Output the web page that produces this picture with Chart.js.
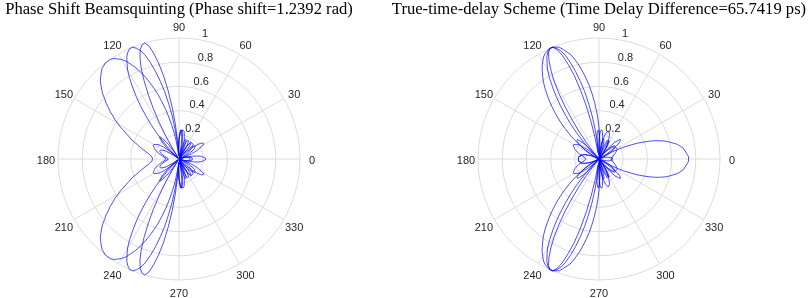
<!DOCTYPE html>
<html>
<head>
<meta charset="utf-8">
<script src="https://cdn.jsdelivr.net/npm/chart.js@4.4.1/dist/chart.umd.min.js"></script>
<style>
  body { margin: 0; background: #fff; }
  #wrap { position: relative; width: 809px; height: 298px; overflow: hidden; }
  canvas { position: absolute; top: 0; }
</style>
</head>
<body>
<div id="wrap">
  <canvas id="psChart" width="400" height="298" style="left:-21px"></canvas>
  <canvas id="ttdChart" width="440" height="298" style="left:379px"></canvas>
</div>
<script>
// angulo (graus), passo de 1.5
const angles = [
  0, 1.5, 3, 4.5, 6, 7.5, 9, 10.5, 12, 13.5, 15, 16.5, 18, 19.5, 21, 22.5, 24, 25.5, 27, 28.5,
  30, 31.5, 33, 34.5, 36, 37.5, 39, 40.5, 42, 43.5, 45, 46.5, 48, 49.5, 51, 52.5, 54, 55.5, 57, 58.5,
  60, 61.5, 63, 64.5, 66, 67.5, 69, 70.5, 72, 73.5, 75, 76.5, 78, 79.5, 81, 82.5, 84, 85.5, 87, 88.5,
  90, 91.5, 93, 94.5, 96, 97.5, 99, 100.5, 102, 103.5, 105, 106.5, 108, 109.5, 111, 112.5, 114, 115.5, 117, 118.5,
  120, 121.5, 123, 124.5, 126, 127.5, 129, 130.5, 132, 133.5, 135, 136.5, 138, 139.5, 141, 142.5, 144, 145.5, 147, 148.5,
  150, 151.5, 153, 154.5, 156, 157.5, 159, 160.5, 162, 163.5, 165, 166.5, 168, 169.5, 171, 172.5, 174, 175.5, 177, 178.5,
  180, 181.5, 183, 184.5, 186, 187.5, 189, 190.5, 192, 193.5, 195, 196.5, 198, 199.5, 201, 202.5, 204, 205.5, 207, 208.5,
  210, 211.5, 213, 214.5, 216, 217.5, 219, 220.5, 222, 223.5, 225, 226.5, 228, 229.5, 231, 232.5, 234, 235.5, 237, 238.5,
  240, 241.5, 243, 244.5, 246, 247.5, 249, 250.5, 252, 253.5, 255, 256.5, 258, 259.5, 261, 262.5, 264, 265.5, 267, 268.5,
  270, 271.5, 273, 274.5, 276, 277.5, 279, 280.5, 282, 283.5, 285, 286.5, 288, 289.5, 291, 292.5, 294, 295.5, 297, 298.5,
  300, 301.5, 303, 304.5, 306, 307.5, 309, 310.5, 312, 313.5, 315, 316.5, 318, 319.5, 321, 322.5, 324, 325.5, 327, 328.5,
  330, 331.5, 333, 334.5, 336, 337.5, 339, 340.5, 342, 343.5, 345, 346.5, 348, 349.5, 351, 352.5, 354, 355.5, 357, 358.5
];

const thetaTicks = [0, 30, 60, 90, 120, 150, 180, 210, 240, 270, 300, 330];
const rTicks = [0.2, 0.4, 0.6, 0.8, 1];
const rTickLabels = ['0.2', '0.4', '0.6', '0.8', '1'];

const titlePS = 'Phase Shift Beamsquinting (Phase shift=1.2392 rad)';
const titleTTD = 'True-time-delay Scheme (Time Delay Difference=65.7419 ps)';

// phase shift - frequencia baixa (lobulo largo em ~126)
const psLow = [
  0.09, 0.09, 0.09, 0.09, 0.09, 0.08, 0.08, 0.08, 0.07, 0.07, 0.06, 0.05, 0.04, 0.04, 0.03, 0.02, 0.01, 0.01, 0.02, 0.03,
  0.04, 0.06, 0.07, 0.08, 0.10, 0.11, 0.12, 0.13, 0.15, 0.15, 0.16, 0.17, 0.17, 0.17, 0.17, 0.17, 0.16, 0.15, 0.14, 0.12,
  0.10, 0.08, 0.05, 0.03, 0.00, 0.03, 0.06, 0.09, 0.12, 0.15, 0.17, 0.19, 0.21, 0.23, 0.24, 0.24, 0.24, 0.23, 0.21, 0.19,
  0.16, 0.12, 0.08, 0.03, 0.03, 0.09, 0.15, 0.22, 0.28, 0.35, 0.42, 0.49, 0.56, 0.62, 0.68, 0.74, 0.79, 0.84, 0.88, 0.92,
  0.95, 0.97, 0.99, 1.00, 1.00, 1.00, 0.99, 0.98, 0.96, 0.94, 0.92, 0.89, 0.86, 0.83, 0.79, 0.76, 0.72, 0.69, 0.65, 0.62,
  0.58, 0.55, 0.51, 0.48, 0.45, 0.43, 0.40, 0.37, 0.35, 0.33, 0.31, 0.29, 0.28, 0.26, 0.25, 0.24, 0.23, 0.23, 0.22, 0.22,
  0.22, 0.22, 0.22, 0.23, 0.23, 0.24, 0.25, 0.26, 0.28, 0.29, 0.31, 0.33, 0.35, 0.37, 0.40, 0.43, 0.45, 0.48, 0.51, 0.55,
  0.58, 0.62, 0.65, 0.69, 0.72, 0.76, 0.79, 0.83, 0.86, 0.89, 0.92, 0.94, 0.96, 0.98, 0.99, 1.00, 1.00, 1.00, 0.99, 0.97,
  0.95, 0.92, 0.88, 0.84, 0.79, 0.74, 0.68, 0.62, 0.56, 0.49, 0.42, 0.35, 0.28, 0.22, 0.15, 0.09, 0.03, 0.03, 0.08, 0.12,
  0.16, 0.19, 0.21, 0.23, 0.24, 0.24, 0.24, 0.23, 0.21, 0.19, 0.17, 0.15, 0.12, 0.09, 0.06, 0.03, 0.00, 0.03, 0.05, 0.08,
  0.10, 0.12, 0.14, 0.15, 0.16, 0.17, 0.17, 0.17, 0.17, 0.17, 0.16, 0.15, 0.15, 0.13, 0.12, 0.11, 0.10, 0.08, 0.07, 0.06,
  0.04, 0.03, 0.02, 0.01, 0.01, 0.02, 0.03, 0.04, 0.04, 0.05, 0.06, 0.07, 0.07, 0.08, 0.08, 0.08, 0.09, 0.09, 0.09, 0.09
];

// frequencia central (igual nos dois esquemas)
const center = [
  0.11, 0.11, 0.11, 0.11, 0.10, 0.10, 0.09, 0.08, 0.07, 0.06, 0.05, 0.04, 0.02, 0.01, 0.01, 0.03, 0.04, 0.06, 0.08, 0.10,
  0.11, 0.13, 0.14, 0.16, 0.16, 0.17, 0.17, 0.17, 0.16, 0.15, 0.14, 0.12, 0.09, 0.07, 0.04, 0.01, 0.03, 0.06, 0.09, 0.12,
  0.14, 0.16, 0.17, 0.17, 0.17, 0.15, 0.13, 0.10, 0.06, 0.02, 0.02, 0.07, 0.12, 0.16, 0.19, 0.22, 0.24, 0.24, 0.23, 0.20,
  0.16, 0.10, 0.03, 0.06, 0.15, 0.25, 0.36, 0.46, 0.57, 0.66, 0.75, 0.83, 0.90, 0.95, 0.98, 1.00, 1.00, 0.98, 0.95, 0.90,
  0.85, 0.78, 0.70, 0.62, 0.54, 0.45, 0.37, 0.29, 0.21, 0.14, 0.07, 0.01, 0.05, 0.09, 0.13, 0.16, 0.19, 0.21, 0.22, 0.23,
  0.24, 0.24, 0.24, 0.23, 0.22, 0.22, 0.21, 0.20, 0.19, 0.18, 0.17, 0.16, 0.15, 0.14, 0.13, 0.13, 0.12, 0.12, 0.11, 0.11,
  0.11, 0.11, 0.11, 0.12, 0.12, 0.13, 0.13, 0.14, 0.15, 0.16, 0.17, 0.18, 0.19, 0.20, 0.21, 0.22, 0.22, 0.23, 0.24, 0.24,
  0.24, 0.23, 0.22, 0.21, 0.19, 0.16, 0.13, 0.09, 0.05, 0.01, 0.07, 0.14, 0.21, 0.29, 0.37, 0.45, 0.54, 0.62, 0.70, 0.78,
  0.85, 0.90, 0.95, 0.98, 1.00, 1.00, 0.98, 0.95, 0.90, 0.83, 0.75, 0.66, 0.57, 0.46, 0.36, 0.25, 0.15, 0.06, 0.03, 0.10,
  0.16, 0.20, 0.23, 0.24, 0.24, 0.22, 0.19, 0.16, 0.12, 0.07, 0.02, 0.02, 0.06, 0.10, 0.13, 0.15, 0.17, 0.17, 0.17, 0.16,
  0.14, 0.12, 0.09, 0.06, 0.03, 0.01, 0.04, 0.07, 0.09, 0.12, 0.14, 0.15, 0.16, 0.17, 0.17, 0.17, 0.16, 0.16, 0.14, 0.13,
  0.11, 0.10, 0.08, 0.06, 0.04, 0.03, 0.01, 0.01, 0.02, 0.04, 0.05, 0.06, 0.07, 0.08, 0.09, 0.10, 0.10, 0.11, 0.11, 0.11
];

// phase shift - frequencia alta (lobulo estreito em ~107)
const psHigh = [
  0.22, 0.22, 0.21, 0.20, 0.19, 0.18, 0.16, 0.13, 0.11, 0.08, 0.05, 0.02, 0.01, 0.05, 0.08, 0.11, 0.14, 0.17, 0.19, 0.21,
  0.23, 0.24, 0.24, 0.23, 0.22, 0.20, 0.17, 0.14, 0.10, 0.05, 0.01, 0.04, 0.08, 0.11, 0.14, 0.16, 0.17, 0.17, 0.15, 0.13,
  0.09, 0.05, 0.00, 0.05, 0.09, 0.13, 0.16, 0.17, 0.17, 0.15, 0.12, 0.07, 0.01, 0.05, 0.12, 0.17, 0.21, 0.24, 0.24, 0.21,
  0.16, 0.08, 0.03, 0.15, 0.29, 0.43, 0.57, 0.70, 0.81, 0.90, 0.97, 1.00, 0.99, 0.96, 0.90, 0.82, 0.71, 0.59, 0.47, 0.34,
  0.22, 0.11, 0.01, 0.08, 0.15, 0.19, 0.22, 0.24, 0.24, 0.22, 0.20, 0.16, 0.13, 0.09, 0.05, 0.01, 0.03, 0.06, 0.09, 0.12,
  0.14, 0.15, 0.16, 0.17, 0.17, 0.17, 0.17, 0.16, 0.16, 0.15, 0.14, 0.13, 0.13, 0.12, 0.11, 0.11, 0.10, 0.10, 0.09, 0.09,
  0.09, 0.09, 0.09, 0.10, 0.10, 0.11, 0.11, 0.12, 0.13, 0.13, 0.14, 0.15, 0.16, 0.16, 0.17, 0.17, 0.17, 0.17, 0.16, 0.15,
  0.14, 0.12, 0.09, 0.06, 0.03, 0.01, 0.05, 0.09, 0.13, 0.16, 0.20, 0.22, 0.24, 0.24, 0.22, 0.19, 0.15, 0.08, 0.01, 0.11,
  0.22, 0.34, 0.47, 0.59, 0.71, 0.82, 0.90, 0.96, 0.99, 1.00, 0.97, 0.90, 0.81, 0.70, 0.57, 0.43, 0.29, 0.15, 0.03, 0.08,
  0.16, 0.21, 0.24, 0.24, 0.21, 0.17, 0.12, 0.05, 0.01, 0.07, 0.12, 0.15, 0.17, 0.17, 0.16, 0.13, 0.09, 0.05, 0.00, 0.05,
  0.09, 0.13, 0.15, 0.17, 0.17, 0.16, 0.14, 0.11, 0.08, 0.04, 0.01, 0.05, 0.10, 0.14, 0.17, 0.20, 0.22, 0.23, 0.24, 0.24,
  0.23, 0.21, 0.19, 0.17, 0.14, 0.11, 0.08, 0.05, 0.01, 0.02, 0.05, 0.08, 0.11, 0.13, 0.16, 0.18, 0.19, 0.20, 0.21, 0.22
];

// true-time-delay - frequencia baixa
const ttdLow = [
  0.10, 0.10, 0.10, 0.11, 0.11, 0.11, 0.11, 0.12, 0.12, 0.12, 0.13, 0.13, 0.14, 0.14, 0.15, 0.15, 0.16, 0.16, 0.17, 0.17,
  0.17, 0.17, 0.17, 0.17, 0.17, 0.16, 0.16, 0.15, 0.14, 0.12, 0.11, 0.09, 0.07, 0.05, 0.03, 0.00, 0.02, 0.05, 0.07, 0.10,
  0.13, 0.15, 0.17, 0.19, 0.21, 0.23, 0.23, 0.24, 0.24, 0.23, 0.22, 0.20, 0.17, 0.14, 0.10, 0.05, 0.00, 0.06, 0.12, 0.19,
  0.26, 0.33, 0.40, 0.47, 0.54, 0.61, 0.67, 0.73, 0.79, 0.84, 0.89, 0.92, 0.95, 0.98, 0.99, 1.00, 1.00, 0.99, 0.98, 0.96,
  0.93, 0.90, 0.86, 0.82, 0.78, 0.73, 0.68, 0.63, 0.58, 0.53, 0.48, 0.43, 0.38, 0.33, 0.29, 0.24, 0.20, 0.16, 0.13, 0.09,
  0.06, 0.03, 0.00, 0.02, 0.04, 0.06, 0.08, 0.09, 0.10, 0.12, 0.13, 0.14, 0.15, 0.15, 0.16, 0.16, 0.17, 0.17, 0.17, 0.17,
  0.17, 0.17, 0.17, 0.17, 0.17, 0.16, 0.16, 0.15, 0.15, 0.14, 0.13, 0.12, 0.10, 0.09, 0.08, 0.06, 0.04, 0.02, 0.00, 0.03,
  0.06, 0.09, 0.13, 0.16, 0.20, 0.24, 0.29, 0.33, 0.38, 0.43, 0.48, 0.53, 0.58, 0.63, 0.68, 0.73, 0.78, 0.82, 0.86, 0.90,
  0.93, 0.96, 0.98, 0.99, 1.00, 1.00, 0.99, 0.98, 0.95, 0.92, 0.89, 0.84, 0.79, 0.73, 0.67, 0.61, 0.54, 0.47, 0.40, 0.33,
  0.26, 0.19, 0.12, 0.06, 0.00, 0.05, 0.10, 0.14, 0.17, 0.20, 0.22, 0.23, 0.24, 0.24, 0.23, 0.23, 0.21, 0.19, 0.17, 0.15,
  0.13, 0.10, 0.07, 0.05, 0.02, 0.00, 0.03, 0.05, 0.07, 0.09, 0.11, 0.12, 0.14, 0.15, 0.16, 0.16, 0.17, 0.17, 0.17, 0.17,
  0.17, 0.17, 0.17, 0.16, 0.16, 0.15, 0.15, 0.14, 0.14, 0.13, 0.13, 0.12, 0.12, 0.12, 0.11, 0.11, 0.11, 0.11, 0.10, 0.10
];

// true-time-delay - frequencia alta (lobulo extra em 0)
const ttdHigh = [
  0.74, 0.74, 0.73, 0.72, 0.71, 0.70, 0.68, 0.66, 0.63, 0.60, 0.57, 0.53, 0.49, 0.44, 0.39, 0.34, 0.28, 0.23, 0.17, 0.11,
  0.05, 0.01, 0.07, 0.11, 0.16, 0.19, 0.22, 0.23, 0.24, 0.23, 0.21, 0.19, 0.15, 0.11, 0.06, 0.01, 0.04, 0.09, 0.13, 0.15,
  0.17, 0.17, 0.16, 0.14, 0.10, 0.06, 0.01, 0.05, 0.09, 0.13, 0.16, 0.17, 0.17, 0.15, 0.11, 0.06, 0.00, 0.07, 0.13, 0.18,
  0.22, 0.24, 0.23, 0.20, 0.14, 0.06, 0.05, 0.18, 0.31, 0.45, 0.59, 0.72, 0.82, 0.91, 0.97, 1.00, 1.00, 0.97, 0.91, 0.83,
  0.74, 0.63, 0.51, 0.39, 0.28, 0.17, 0.07, 0.02, 0.09, 0.15, 0.19, 0.22, 0.24, 0.24, 0.23, 0.21, 0.19, 0.16, 0.13, 0.10,
  0.07, 0.04, 0.01, 0.02, 0.04, 0.07, 0.09, 0.10, 0.12, 0.13, 0.14, 0.15, 0.15, 0.16, 0.16, 0.16, 0.17, 0.17, 0.17, 0.17,
  0.17, 0.17, 0.17, 0.17, 0.17, 0.16, 0.16, 0.16, 0.15, 0.15, 0.14, 0.13, 0.12, 0.10, 0.09, 0.07, 0.04, 0.02, 0.01, 0.04,
  0.07, 0.10, 0.13, 0.16, 0.19, 0.21, 0.23, 0.24, 0.24, 0.22, 0.19, 0.15, 0.09, 0.02, 0.07, 0.17, 0.28, 0.39, 0.51, 0.63,
  0.74, 0.83, 0.91, 0.97, 1.00, 1.00, 0.97, 0.91, 0.82, 0.72, 0.59, 0.45, 0.31, 0.18, 0.05, 0.06, 0.14, 0.20, 0.23, 0.24,
  0.22, 0.18, 0.13, 0.07, 0.00, 0.06, 0.11, 0.15, 0.17, 0.17, 0.16, 0.13, 0.09, 0.05, 0.01, 0.06, 0.10, 0.14, 0.16, 0.17,
  0.17, 0.15, 0.13, 0.09, 0.04, 0.01, 0.06, 0.11, 0.15, 0.19, 0.21, 0.23, 0.24, 0.23, 0.22, 0.19, 0.16, 0.11, 0.07, 0.01,
  0.05, 0.11, 0.17, 0.23, 0.28, 0.34, 0.39, 0.44, 0.49, 0.53, 0.57, 0.60, 0.63, 0.66, 0.68, 0.70, 0.71, 0.72, 0.73, 0.74
];

// o radar do Chart.js gira no sentido horario; invertemos a ordem
// para que os angulos crescam no sentido anti-horario (como no MATLAB)
function paraRadar(arr) {
  return arr.map((v, i) => arr[(arr.length - i) % arr.length]);
}

const polarLabels = {
  id: 'polarLabels',
  afterDraw(chart) {
    const scale = chart.scales.r;
    const ctx = chart.ctx;
    ctx.save();
    ctx.font = '11px "Liberation Sans", Arial, sans-serif';
    ctx.fillStyle = '#262626';
    ctx.textAlign = 'center';
    ctx.textBaseline = 'middle';
    thetaTicks.forEach(t => {
      const idx = chart.data.labels.indexOf(t);
      const p = scale.getPointPosition(idx, scale.drawingArea + 12);
      ctx.fillText(String(t), p.x, p.y + 2);
    });
    ctx.textAlign = 'left';
    const a = 80 * Math.PI / 180;
    rTicks.forEach((v, i) => {
      const d = scale.getDistanceFromCenterForValue(v);
      ctx.fillText(rTickLabels[i], scale.xCenter + d * Math.cos(a) + 2, scale.yCenter - d * Math.sin(a) - 6);
    });
    ctx.restore();
  }
};

function criarPolar(id, titulo, series) {
  const ctx = document.getElementById(id).getContext('2d');
  return new Chart(ctx, {
    type: 'radar',
    data: {
      labels: paraRadar(angles),
      datasets: series.map(s => ({
        data: paraRadar(s),
        borderColor: '#0000ff',
        borderWidth: 0.7,
        fill: false,
        pointRadius: 0,
        tension: 0
      }))
    },
    options: {
      responsive: false,
      animation: false,
      events: [],
      layout: { padding: { bottom: 18 } },
      plugins: {
        legend: { display: false },
        tooltip: { enabled: false },
        title: {
          display: true,
          text: titulo,
          color: '#000',
          font: { family: "'Liberation Serif', 'Times New Roman', serif", size: 16.6, weight: 'normal' },
          padding: { top: 0, bottom: 18.08 }
        }
      },
      scales: {
        r: {
          min: 0,
          max: 1,
          startAngle: 90,
          ticks: { display: false, stepSize: 0.2 },
          pointLabels: { display: false },
          grid: { circular: true, color: '#dcdcdc', lineWidth: 1 },
          angleLines: {
            color: '#dcdcdc',
            lineWidth: (c) => (Number(c.label) % 30 === 0 ? 1 : 0)
          }
        }
      }
    },
    plugins: [polarLabels]
  });
}

criarPolar('psChart', titlePS, [psLow, center, psHigh]);
criarPolar('ttdChart', titleTTD, [ttdLow, center, ttdHigh]);
</script>
</body>
</html>
